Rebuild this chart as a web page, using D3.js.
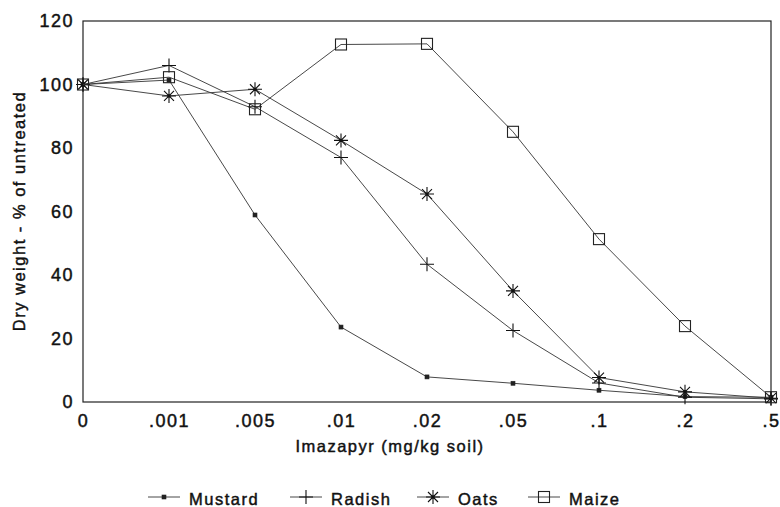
<!DOCTYPE html>
<html>
<head>
<meta charset="utf-8">
<script src="https://cdn.jsdelivr.net/npm/d3@7"></script>
<style>
	body { margin: 0; background: #fff; }
	svg text { font-family: "Liberation Sans", Arial, sans-serif; fill: #111; stroke: #111; stroke-width: 0.45px; letter-spacing: 1.5px; }
	.axis text { font-size: 18px; }
	.axisTitle, .legend text { font-size: 16.5px; }
</style>
</head>
<body>
<div id="chart"></div>
<script>
const doses = [".0", ".001", ".005", ".01", ".02", ".05", ".1", ".2", ".5"];
const doseLabels = ["0", ".001", ".005", ".01", ".02", ".05", ".1", ".2", ".5"];
const mustard = [100, 101.4, 58.9, 23.6, 7.9, 5.9, 3.7, 1.7, 1.5];
const radish = [100, 106, 93, 77, 43.4, 22.5, 6, 1.5, 1];
const oats = [100, 96.4, 98.5, 82.4, 65.5, 35, 7.7, 3.2, 1.2];
const maize = [100, 102.3, 92.2, 112.6, 112.8, 85.1, 51.3, 23.9, 1.5];
const yTicks = [0, 20, 40, 60, 80, 100, 120];

const width = 780, height = 507;
const plot = {left: 83, right: 771, top: 21, bottom: 402};

const series = [
	{name: "Mustard", values: mustard, marker: "dot"},
	{name: "Radish", values: radish, marker: "plus"},
	{name: "Oats", values: oats, marker: "star"},
	{name: "Maize", values: maize, marker: "square"}
];

const svg = d3.select("#chart")
	.append("svg")
	.attr("width", width)
	.attr("height", height);

const xScale = d3.scalePoint()
	.domain(doses)
	.range([plot.left, plot.right]);

const yScale = d3.scaleLinear()
	.domain([0, 120])
	.range([plot.bottom, plot.top]);

const xAxis = d3.axisBottom(xScale)
	.tickSize(0)
	.tickPadding(12)
	.tickFormat((d, i) => doseLabels[i]);

const yAxis = d3.axisLeft(yScale)
	.tickValues(yTicks)
	.tickSize(0)
	.tickPadding(9);

svg.append("g")
	.attr("class", "axis")
	.attr("transform", "translate(0," + plot.bottom + ")")
	.call(xAxis)
	.call(g => g.select(".domain").remove());

svg.append("g")
	.attr("class", "axis")
	.attr("transform", "translate(" + plot.left + ",0)")
	.call(yAxis)
	.call(g => g.select(".domain").remove());

svg.append("rect")
	.attr("x", plot.left)
	.attr("y", plot.top)
	.attr("width", plot.right - plot.left)
	.attr("height", plot.bottom - plot.top)
	.attr("fill", "none")
	.attr("stroke", "#222")
	.attr("stroke-width", 1.2);

svg.append("text")
	.attr("class", "axisTitle")
	.attr("transform", "rotate(-90)")
	.attr("x", -211)
	.attr("y", 25)
	.style("text-anchor", "middle")
	.text("Dry weight - % of untreated");

svg.append("text")
	.attr("class", "axisTitle")
	.attr("x", 390)
	.attr("y", 452)
	.style("text-anchor", "middle")
	.text("Imazapyr (mg/kg soil)");

// marker shapes, drawn around 0,0
function drawMarker(g, type) {
	if (type == "dot") {
		g.append("rect").attr("x", -2).attr("y", -2).attr("width", 4).attr("height", 4)
			.attr("fill", "#222").attr("stroke", "#222").attr("stroke-width", 0.6);
	} else if (type == "plus") {
		g.append("path").attr("d", "M-7,0H7M0,-7V7")
			.attr("stroke", "#111").attr("stroke-width", 1.1);
	} else if (type == "star") {
		g.append("path").attr("d", "M-7,0H7M0,-7V7M-5,-5L5,5M-5,5L5,-5")
			.attr("stroke", "#111").attr("stroke-width", 1.1);
		g.append("circle").attr("r", 1.6).attr("fill", "#111");
	} else {
		g.append("rect").attr("x", -5.5).attr("y", -5.5).attr("width", 11).attr("height", 11)
			.attr("fill", "none").attr("stroke", "#222").attr("stroke-width", 1.1);
	}
}

const line = d3.line()
	.x((d, i) => xScale(doses[i]))
	.y(d => yScale(d));

series.forEach(s => {
	svg.append("path")
		.datum(s.values)
		.attr("fill", "none")
		.attr("stroke", "#333")
		.attr("stroke-width", 0.9)
		.attr("d", line);

	svg.selectAll(".m-" + s.name)
		.data(s.values)
		.enter().append("g")
		.attr("class", "m-" + s.name)
		.attr("transform", (d, i) => "translate(" + xScale(doses[i]) + "," + yScale(d) + ")")
		.each(function() { drawMarker(d3.select(this), s.marker); });
});

const legendX = [148, 290, 417, 528];

const legend = svg.selectAll(".legend")
	.data(series)
	.enter().append("g")
	.attr("class", "legend")
	.attr("transform", (d, i) => "translate(" + legendX[i] + ",497)");

legend.append("line")
	.attr("x1", 0).attr("x2", 32)
	.attr("stroke", "#333").attr("stroke-width", 0.9);

legend.append("g")
	.attr("transform", "translate(16,0)")
	.each(function(d) { drawMarker(d3.select(this), d.marker); });

legend.append("text")
	.attr("x", 41)
	.attr("y", 8)
	.text(d => d.name);
</script>
</body>
</html>
